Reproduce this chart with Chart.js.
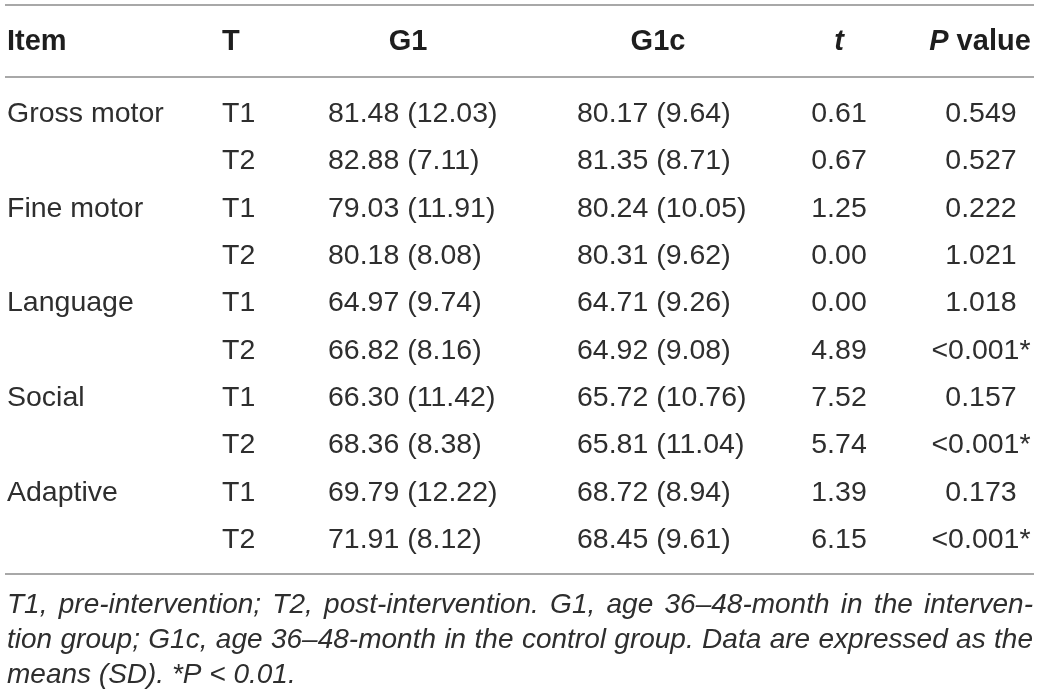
<!DOCTYPE html>
<html>
<head>
<meta charset="utf-8">
<script src="https://cdn.jsdelivr.net/npm/chart.js@4.4.1/dist/chart.umd.min.js"></script>
<style>
  html, body { margin: 0; padding: 0; background: #fff; }
  canvas { display: block; }
</style>
</head>
<body>
<canvas id="chart" width="1040" height="697"></canvas>
<script>
// table content
const headers = ['Item', 'T', 'G1', 'G1c', 't', 'P value'];
const items = ['Gross motor', 'Fine motor', 'Language', 'Social', 'Adaptive'];
const times = ['T1', 'T2'];
const g1Mean = [81.48, 82.88, 79.03, 80.18, 64.97, 66.82, 66.30, 68.36, 69.79, 71.91];
const g1Sd = [12.03, 7.11, 11.91, 8.08, 9.74, 8.16, 11.42, 8.38, 12.22, 8.12];
const g1cMean = [80.17, 81.35, 80.24, 80.31, 64.71, 64.92, 65.72, 65.81, 68.72, 68.45];
const g1cSd = [9.64, 8.71, 10.05, 9.62, 9.26, 9.08, 10.76, 11.04, 8.94, 9.61];
const tValues = [0.61, 0.67, 1.25, 0.00, 0.00, 4.89, 7.52, 5.74, 1.39, 6.15];
const pValues = ['0.549', '0.527', '0.222', '1.021', '1.018', '<0.001*', '0.157', '<0.001*', '0.173', '<0.001*'];
const footnote = [
  'T1, pre-intervention; T2, post-intervention. G1, age 36\u201348-month in the interven-',
  'tion group; G1c, age 36\u201348-month in the control group. Data are expressed as the',
  'means (SD). *P < 0.01.'
];

// layout in canvas units (x: 0..1040, y: 0..697)
const layout = {
  cellX: [7, 222, 328, 577, 839, 981],
  cellAlign: ['left', 'left', 'left', 'left', 'center', 'center'],
  headX: [7, 222, 408, 658, 839, 980],
  headAlign: ['left', 'left', 'center', 'center', 'center', 'center'],
  headBase: 50,
  firstBase: 122,
  rowStep: 47.35,
  rules: [5, 77, 574],
  ruleFrom: 5,
  ruleTo: 1034,
  noteBase: [613, 648, 683],
  noteFrom: 7,
  noteTo: 1033
};

const FONT = '"Liberation Sans", Arial, sans-serif';
const TEXT = '#2e2e2e';
const HEAD = '#1e1e1e';

function rowCells(i) {
  return [
    i % 2 === 0 ? items[i / 2] : '',
    times[i % 2],
    g1Mean[i].toFixed(2) + ' (' + g1Sd[i].toFixed(2) + ')',
    g1cMean[i].toFixed(2) + ' (' + g1cSd[i].toFixed(2) + ')',
    tValues[i].toFixed(2),
    pValues[i]
  ];
}

function drawJustified(ctx, text, x0, x1, y) {
  const words = text.split(' ');
  let total = 0;
  words.forEach(w => { total += ctx.measureText(w).width; });
  const gap = (x1 - x0 - total) / (words.length - 1);
  let x = x0;
  ctx.textAlign = 'left';
  words.forEach(w => {
    ctx.fillText(w, x, y);
    x += ctx.measureText(w).width + gap;
  });
}

const tablePlugin = {
  id: 'tablePlugin',
  afterDraw(chart) {
    const ctx = chart.ctx;
    const xs = chart.scales.x;
    const ys = chart.scales.y;
    const px = v => xs.getPixelForValue(v);
    const py = v => ys.getPixelForValue(v);
    ctx.save();

    // horizontal rules
    ctx.strokeStyle = '#a8a8a8';
    ctx.lineWidth = 2;
    layout.rules.forEach(r => {
      ctx.beginPath();
      ctx.moveTo(px(layout.ruleFrom), py(r));
      ctx.lineTo(px(layout.ruleTo), py(r));
      ctx.stroke();
    });

    ctx.textBaseline = 'alphabetic';

    // header
    ctx.fillStyle = HEAD;
    headers.forEach((h, c) => {
      const x = px(layout.headX[c]);
      const y = py(layout.headBase);
      if (h === 'P value') {
        ctx.font = 'italic bold 29px ' + FONT;
        const wP = ctx.measureText('P').width;
        ctx.font = 'bold 29px ' + FONT;
        const wV = ctx.measureText(' value').width;
        const start = x - (wP + wV) / 2;
        ctx.textAlign = 'left';
        ctx.font = 'italic bold 29px ' + FONT;
        ctx.fillText('P', start, y);
        ctx.font = 'bold 29px ' + FONT;
        ctx.fillText(' value', start + wP, y);
      } else {
        ctx.font = (h === 't' ? 'italic ' : '') + 'bold 29px ' + FONT;
        ctx.textAlign = layout.headAlign[c];
        ctx.fillText(h, x, y);
      }
    });

    // body rows
    ctx.fillStyle = TEXT;
    ctx.font = '28.5px ' + FONT;
    for (let i = 0; i < g1Mean.length; i++) {
      const y = py(layout.firstBase + i * layout.rowStep);
      rowCells(i).forEach((txt, c) => {
        if (!txt) return;
        ctx.textAlign = layout.cellAlign[c];
        ctx.fillText(txt, px(layout.cellX[c]), y);
      });
    }

    // footnote
    ctx.font = 'italic 28px ' + FONT;
    footnote.forEach((line, k) => {
      const y = py(layout.noteBase[k]);
      if (k < footnote.length - 1) {
        drawJustified(ctx, line, px(layout.noteFrom), px(layout.noteTo), y);
      } else {
        ctx.textAlign = 'left';
        ctx.fillText(line, px(layout.noteFrom), y);
      }
    });

    ctx.restore();
  }
};

new Chart(document.getElementById('chart').getContext('2d'), {
  type: 'scatter',
  data: { datasets: [] },
  options: {
    responsive: false,
    animation: false,
    layout: { padding: 0 },
    plugins: { legend: { display: false }, tooltip: { enabled: false } },
    scales: {
      x: { type: 'linear', min: 0, max: 1040, display: false },
      y: { type: 'linear', min: 0, max: 697, reverse: true, display: false }
    }
  },
  plugins: [tablePlugin]
});
</script>
</body>
</html>
